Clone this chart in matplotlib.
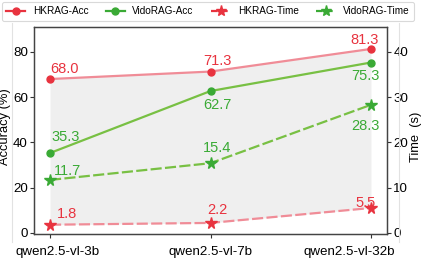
import matplotlib
matplotlib.use("Agg")
import matplotlib.pyplot as plt
from matplotlib.lines import Line2D
import matplotlib.transforms as mtransforms
import numpy as np

models = ["qwen2.5-vl-3b", "qwen2.5-vl-7b", "qwen2.5-vl-32b"]
hk_acc = [68.0, 71.3, 81.3]
vido_acc = [35.3, 62.7, 75.3]
hk_time = [1.8, 2.2, 5.5]
vido_time = [11.7, 15.4, 28.3]

RED_M = "#e8333f"
RED_L = "#f08c97"
GRN_M = "#3aaa35"
GRN_L = "#78c043"

plt.rcParams['font.family'] = ['Liberation Sans', 'DejaVu Sans']

fig = plt.figure(figsize=(4.23, 2.61), dpi=100)
ax = fig.add_axes([34/423, 1-234/261, (387-34)/423, (234-27)/261])
ax2 = ax.twinx()

x = np.arange(len(models))
ax.set_xlim(-0.1, 2.1)
ax.set_ylim(-0.5, 91)
ax2.set_ylim(-0.25, 45.5)

# shaded band between top accuracy and bottom time (in accuracy units)
ax.fill_between(x, hk_acc, [t * 2 for t in hk_time], color="#efefef", zorder=0, lw=0)

ax.plot(x, hk_acc, color=RED_L, lw=1.6, zorder=3)
ax.plot(x, hk_acc, 'o', color=RED_M, ms=5, zorder=4)
ax.plot(x, vido_acc, color=GRN_L, lw=1.6, zorder=3)
ax.plot(x, vido_acc, 'o', color=GRN_M, ms=5, zorder=4)
ax2.plot(x, hk_time, color=RED_L, lw=1.6, ls=(0, (5, 1.5)), zorder=3)
ax2.plot(x, hk_time, '*', color=RED_M, ms=8.5, zorder=4)
ax2.plot(x, vido_time, color=GRN_L, lw=1.6, ls=(0, (5, 1.5)), zorder=3)
ax2.plot(x, vido_time, '*', color=GRN_M, ms=8.5, zorder=4)

fs = 10.5
def ann(a, xi, yi, txt, dx, dy, c):
    a.annotate(txt, (xi, yi), xytext=(dx, dy), textcoords='offset pixels',
               ha='center', va='center', color=c, fontsize=fs, zorder=5)

acc_off = {"hk": [(14, 10), (7, 11), (-6, 9)], "vido": [(16, 16), (7, -14), (-6, -13)]}
time_off = {"hk": [(17, 11), (7, 13), (-5, 5)], "vido": [(17, 9), (7, 15), (-6, -21)]}
for i in range(3):
    ann(ax, x[i], hk_acc[i], f"{hk_acc[i]:.1f}", *acc_off["hk"][i], RED_M)
    ann(ax, x[i], vido_acc[i], f"{vido_acc[i]:.1f}", *acc_off["vido"][i], GRN_M)
    ann(ax2, x[i], hk_time[i], f"{hk_time[i]:.1f}", *time_off["hk"][i], RED_M)
    ann(ax2, x[i], vido_time[i], f"{vido_time[i]:.1f}", *time_off["vido"][i], GRN_M)

tfs = 9.6
ax.set_xticks(x)
ax.set_xticklabels([])
shifts = [8, 0, -22]
base = mtransforms.blended_transform_factory(ax.transData, ax.transAxes)
for xi, name, s in zip(x, models, shifts):
    tr = base + mtransforms.ScaledTranslation(s / 100, -12 / 100, fig.dpi_scale_trans)
    ax.text(xi, 0, name, transform=tr, ha='center', va='top', fontsize=tfs, color='black')

ax.set_yticks([0, 20, 40, 60, 80])
ax2.set_yticks([0, 10, 20, 30, 40])
ax.tick_params(axis='x', length=3, colors='#333333')
ax.tick_params(axis='y', labelsize=tfs, length=3, pad=1.5, colors='#333333', labelcolor='black')
ax2.tick_params(axis='y', labelsize=tfs, length=3, pad=1.5, colors='#333333', labelcolor='black')
ax.set_ylabel("Accuracy (%)", fontsize=9.3)
ax2.set_ylabel("Time  (s)", fontsize=9.3)
ax.yaxis.set_label_coords(-0.066, 0.52)
ax2.yaxis.set_label_coords(1.064, 0.47)
for a in (ax, ax2):
    for sp in a.spines.values():
        sp.set_color('#444444')
        sp.set_linewidth(0.9)

# faint outer vertical lines
fig.add_artist(Line2D([12/423, 12/423], [1-242/261, 1-23/261], color='#e2e2e2', lw=0.8, transform=fig.transFigure))
fig.add_artist(Line2D([399/423, 399/423], [1-242/261, 1-23/261], color='#e2e2e2', lw=0.8, transform=fig.transFigure))

handles = [
    Line2D([], [], color=RED_M, marker='o', ms=5, lw=1.6, markerfacecolor=RED_M),
    Line2D([], [], color=GRN_M, marker='o', ms=5, lw=1.6, markerfacecolor=GRN_M),
    Line2D([], [], color=RED_M, marker='*', ms=8, lw=1.6, ls=(0, (3, 1.5))),
    Line2D([], [], color=GRN_M, marker='*', ms=8, lw=1.6, ls=(0, (3, 1.5))),
]
labels = ["HKRAG-Acc", "VidoRAG-Acc", "HKRAG-Time", "VidoRAG-Time"]
leg = fig.legend(handles, labels, ncol=4, loc='upper center', bbox_to_anchor=(0.491, 1.0),
                 fontsize=7.2, frameon=True, handlelength=1.9, columnspacing=1.75,
                 handletextpad=0.75, borderpad=0.45, borderaxespad=0.15, fancybox=True)
leg.get_frame().set_edgecolor('#d0d0d0')
leg.get_frame().set_linewidth(0.8)

fig.savefig("out.png", dpi=100)
